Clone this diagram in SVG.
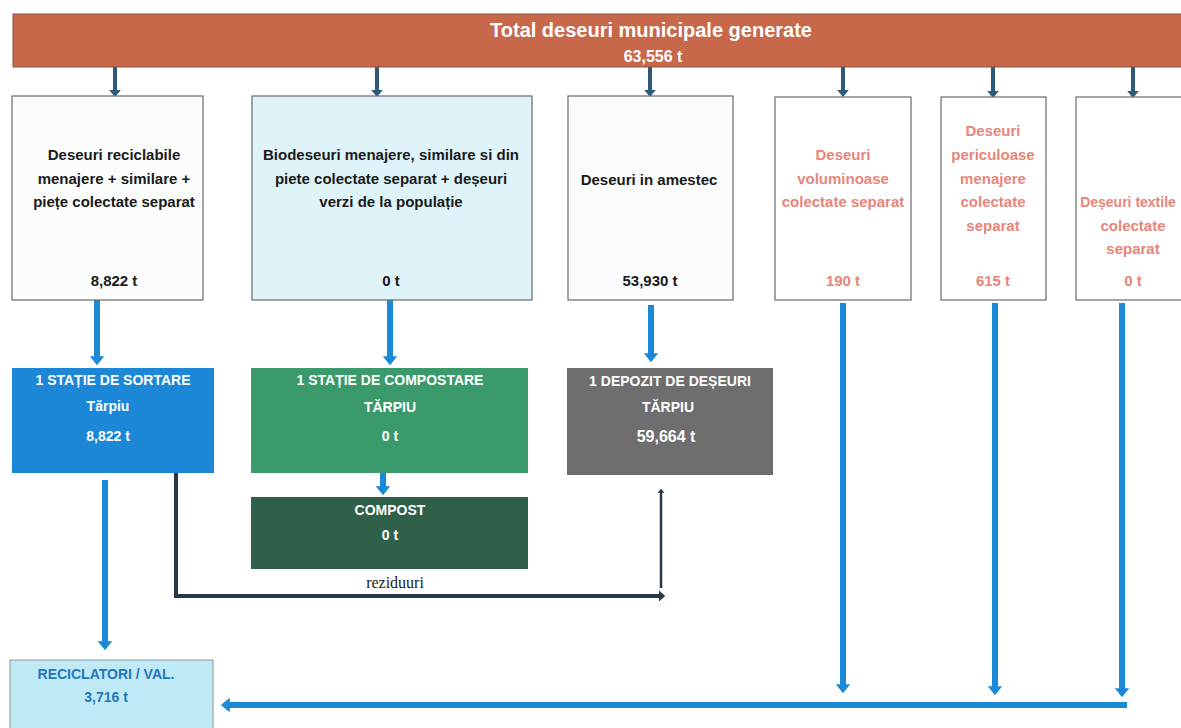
<svg xmlns="http://www.w3.org/2000/svg" width="1181" height="728" viewBox="0 0 1181 728">
<defs>
<style>
.t{font-family:"Liberation Sans",Arial,sans-serif;font-weight:bold;text-anchor:middle}
.k{fill:#1a1a1a;font-size:15px}
.s{fill:#e8857a;font-size:15px}
.w{fill:#ffffff;font-size:14px}
.box{stroke:#6a6a6a;stroke-width:1.2}
.blue{stroke:#1a8ad6;stroke-width:6;fill:none}
.dk{stroke:#2c5a78;stroke-width:4;fill:none}
.res{stroke:#26384a;stroke-width:4;fill:none}
</style>
<marker id="ab" markerWidth="3" markerHeight="4" refX="0.3" refY="2" orient="auto" markerUnits="strokeWidth"><path d="M0,0.8 L1.5,2 L0,3.2 z" fill="#1a8ad6"/></marker>
<marker id="ad" markerWidth="3" markerHeight="4" refX="0.3" refY="2" orient="auto" markerUnits="strokeWidth"><path d="M0,0.5 L1.8,2 L0,3.5 z" fill="#2c5a78"/></marker>
<marker id="ar" markerWidth="3" markerHeight="4" refX="0.3" refY="2" orient="auto" markerUnits="strokeWidth"><path d="M0,0.6 L1.6,2 L0,3.4 z" fill="#26384a"/></marker>
</defs>
<rect width="1181" height="728" fill="#ffffff"/>

<g id="connectors">
<line class="dk" x1="115" y1="67" x2="115" y2="91" marker-end="url(#ad)"/>
<line class="dk" x1="377" y1="67" x2="377" y2="91" marker-end="url(#ad)"/>
<line class="dk" x1="650" y1="67" x2="650" y2="91" marker-end="url(#ad)"/>
<line class="dk" x1="843" y1="67" x2="843" y2="91" marker-end="url(#ad)"/>
<line class="dk" x1="993" y1="67" x2="993" y2="92" marker-end="url(#ad)"/>
<line class="dk" x1="1133" y1="67" x2="1133" y2="92" marker-end="url(#ad)"/>
<line class="blue" x1="97" y1="300" x2="97" y2="358" marker-end="url(#ab)"/>
<line class="blue" x1="390" y1="300" x2="390" y2="358" marker-end="url(#ab)"/>
<line class="blue" x1="651" y1="305" x2="651" y2="355" marker-end="url(#ab)"/>
<line class="blue" x1="383" y1="473" x2="383" y2="488" stroke-width="5" marker-end="url(#ab)"/>
<line class="blue" x1="105" y1="480" x2="105" y2="643" marker-end="url(#ab)"/>
<line class="blue" x1="843" y1="303" x2="843" y2="686" marker-end="url(#ab)"/>
<line class="blue" x1="995" y1="303" x2="995" y2="688" marker-end="url(#ab)"/>
<line class="blue" x1="1122" y1="303" x2="1122" y2="690" marker-end="url(#ab)"/>
<line class="blue" x1="1127" y1="705" x2="228" y2="705" marker-end="url(#ab)"/>
<polyline class="res" points="176,473 176,596 660,596" marker-end="url(#ar)"/>
<line x1="661" y1="588" x2="661" y2="492" stroke="#26384a" stroke-width="2.5" marker-end="url(#ar)"/>
<text x="395" y="588" font-family="'Liberation Serif','Times New Roman',serif" font-size="16" fill="#1a1a1a" text-anchor="middle">reziduuri</text>
</g>

<g id="total">
<rect x="13" y="14" width="1175" height="53" fill="#c8684b" stroke="#8a5040" stroke-width="1"/>
<text class="t" x="651" y="37" fill="#ffffff" font-size="20">Total deseuri municipale  generate</text>
<text class="t" x="653" y="62" fill="#ffffff" font-size="16">63,556 t</text>
</g>

<g id="reciclabile">
<rect class="box" x="12" y="96" width="191" height="204" fill="#fbfdfd"/>
<text class="t k" x="114" y="160">Deseuri reciclabile</text>
<text class="t k" x="114" y="184">menajere + similare +</text>
<text class="t k" x="114" y="207">piețe colectate separat</text>
<text class="t k" x="114" y="286">8,822 t</text>
</g>

<g id="biodeseuri">
<rect class="box" x="252" y="96" width="280" height="204" fill="#dff4f8"/>
<text class="t k" x="391" y="160">Biodeseuri menajere, similare si din</text>
<text class="t k" x="391" y="184">piete colectate separat + deșeuri</text>
<text class="t k" x="391" y="207">verzi de la populație</text>
<text class="t k" x="391" y="286">0 t</text>
</g>

<g id="amestec">
<rect class="box" x="568" y="96" width="165" height="204" fill="#fbfdfd"/>
<text class="t k" x="649" y="185">Deseuri in amestec</text>
<text class="t k" x="650" y="286">53,930 t</text>
</g>

<g id="voluminoase">
<rect class="box" x="775" y="97" width="136" height="203" fill="#ffffff"/>
<text class="t s" x="843" y="160">Deseuri</text>
<text class="t s" x="843" y="184">voluminoase</text>
<text class="t s" x="843" y="207">colectate separat</text>
<text class="t s" x="843" y="286">190 t</text>
</g>

<g id="periculoase">
<rect class="box" x="941" y="97" width="105" height="203" fill="#ffffff"/>
<text class="t s" x="993" y="136">Deseuri</text>
<text class="t s" x="993" y="160">periculoase</text>
<text class="t s" x="993" y="184">menajere</text>
<text class="t s" x="993" y="207">colectate</text>
<text class="t s" x="993" y="231">separat</text>
<text class="t s" x="993" y="286">615 t</text>
</g>

<g id="textile">
<rect class="box" x="1076" y="97" width="110" height="203" fill="#ffffff"/>
<text class="t s" x="1128" y="207" style="font-size:14px">Deșeuri textile</text>
<text class="t s" x="1133" y="231">colectate</text>
<text class="t s" x="1133" y="254">separat</text>
<text class="t s" x="1133" y="286">0 t</text>
</g>

<g id="sortare">
<rect x="12" y="368" width="202" height="105" fill="#1b87d6"/>
<text class="t w" x="113" y="385">1 STAȚIE DE SORTARE</text>
<text class="t w" x="108" y="411">Tărpiu</text>
<text class="t w" x="108" y="441">8,822 t</text>
</g>

<g id="compostare">
<rect x="251" y="368" width="277" height="105" fill="#3b9a6b"/>
<text class="t w" x="390" y="385">1 STAȚIE DE COMPOSTARE</text>
<text class="t w" x="390" y="412">TĂRPIU</text>
<text class="t w" x="390" y="441">0 t</text>
</g>

<g id="compost">
<rect x="251" y="497" width="277" height="72" fill="#2f6049"/>
<text class="t w" x="390" y="515">COMPOST</text>
<text class="t w" x="390" y="540">0 t</text>
</g>

<g id="depozit">
<rect x="567" y="368" width="206" height="107" fill="#6e6e6e"/>
<text class="t w" x="670" y="386">1 DEPOZIT DE DEȘEURI</text>
<text class="t w" x="668" y="412">TĂRPIU</text>
<text class="t w" x="666" y="442" font-size="16" style="font-size:16px">59,664 t</text>
</g>

<g id="reciclatori">
<rect x="10" y="660" width="203" height="75" fill="#c0e9f6" stroke="#8a9aa0" stroke-width="1"/>
<text class="t" x="106" y="679" fill="#1f78bd" font-size="14">RECICLATORI / VAL.</text>
<text class="t" x="106" y="702" fill="#1f78bd" font-size="14">3,716 t</text>
</g>
</svg>
